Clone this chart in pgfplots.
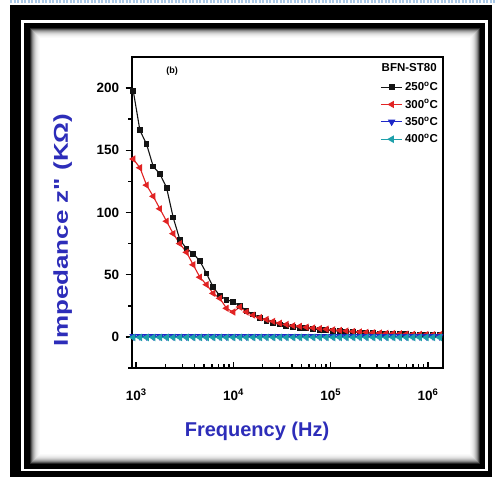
\documentclass[border=0pt]{standalone}
\usepackage{pgfplots}
\pgfplotsset{compat=1.18}
\usepackage{fontspec}
\setmainfont{Liberation Sans}
\newfontfamily\qfont{Liberation Sans}[Ligatures=TeXOff]
\definecolor{cblack}{RGB}{20,20,20}
\definecolor{cred}{RGB}{225,35,35}
\definecolor{cblue}{RGB}{30,40,200}
\definecolor{ccyan}{RGB}{30,160,170}
\definecolor{lblue}{RGB}{45,45,185}

\pgfplotstableread{
f z250 z300 z350 z400
933 198 143 0.4 -0.4
1093 166 136 0.4 -0.4
1279 155 122 0.4 -0.4
1498 137 113 0.4 -0.4
1754 131 103 0.4 -0.4
2054 120 93 0.4 -0.4
2404 96 83 0.4 -0.4
2815 78 75 0.4 -0.4
3296 71 68 0.4 -0.4
3859 67 58 0.4 -0.4
4519 61 48 0.4 -0.4
5291 51 42 0.4 -0.4
6194 40 35 0.4 -0.4
7253 33 31 0.4 -0.4
8492 30 23 0.4 -0.4
9943 28 20 0.4 -0.4
11641 25 24 0.4 -0.4
13630 21 20 0.4 -0.4
15959 18 17.5 0.4 -0.4
18685 15.5 15.5 0.4 -0.4
21878 13 14 0.4 -0.4
25615 11.5 12.5 0.4 -0.4
29992 10 11 0.4 -0.4
35115 9 10 0.4 -0.4
41115 8.2 9 0.4 -0.4
48139 7.5 8.5 0.4 -0.4
56364 7 7.8 0.4 -0.4
65993 6.4 7.2 0.4 -0.4
77268 5.9 6.7 0.4 -0.4
90469 5.5 6.2 0.4 -0.4
105925 5 5.7 0.4 -0.4
124022 4.6 5.2 0.4 -0.4
145211 4.2 4.8 0.4 -0.4
170020 3.9 4.4 0.4 -0.4
199067 3.5 4.0 0.4 -0.4
233077 3.2 3.7 0.4 -0.4
272898 3.0 3.4 0.4 -0.4
319522 2.7 3.1 0.4 -0.4
374111 2.5 2.9 0.4 -0.4
438026 2.3 2.7 0.4 -0.4
512861 2.1 2.5 0.4 -0.4
600484 2.0 2.3 0.4 -0.4
703072 1.8 2.1 0.4 -0.4
823189 1.7 2.0 0.4 -0.4
963829 1.6 1.9 0.4 -0.4
1128496 1.5 1.8 0.4 -0.4
1321300 1.4 1.7 0.4 -0.4
}\data

\begin{document}
\begin{tikzpicture}
\useasboundingbox (0pt,0pt) rectangle (495pt,479pt);
% frame
\fill[white] (0pt,0pt) rectangle (495pt,479pt);
\draw[color={rgb,255:red,170;green,200;blue,230}, line width=3pt, dash pattern=on 2pt off 1.5pt] (10pt,477pt) -- (495pt,477pt);
\fill[black] (10pt,2pt) rectangle (492pt,474pt);
\fill[white] (21pt,8pt) rectangle (488pt,459pt);
\fill[black] (24pt,10pt) rectangle (485pt,456pt);
\fill[white] (30pt,15pt) rectangle (480pt,451pt);
\foreach \i/\c in {0/85,1/65,2/48,3/35,4/25,5/17,6/11,7/7,8/4,9/2}{
  \draw[black!\c, line width=1.1pt] ({30.55pt+\i pt},{15.55pt+\i pt}) rectangle ({479.45pt-\i pt},{450.45pt-\i pt});
}
\begin{axis}[
  at={(131.7pt,111pt)}, anchor=south west,
  scale only axis, width=311pt, height=311pt,
  xmode=log, xmin=900, xmax=1420000,
  ymin=-25, ymax=225,
  axis line style={line width=1.6pt},
  xtick={1000,10000,100000,1000000},
  xticklabels={10\textsuperscript{3},10\textsuperscript{4},10\textsuperscript{5},10\textsuperscript{6}},
  ytick={0,50,100,150,200},
  minor ytick={-25,25,75,125,175},
  xtick pos=bottom, ytick pos=left,
  xtick align=inside, ytick align=outside,
  major tick length=6pt, minor tick length=3.5pt,
  every tick/.style={black, line width=1.4pt},
  tick label style={font=\bfseries\fontsize{13.5}{13.5}\selectfont, black},
  /pgf/number format/assume math mode=true,
  xticklabel style={yshift=-17pt},
  yticklabel style={xshift=-3pt},
  xlabel={Frequency (Hz)},
  ylabel={\scalebox{1.3}[1]{Impedance z{\qfont\bfseries"} (KΩ)}},
  label style={font=\bfseries\fontsize{20}{20}\selectfont, lblue},
  xlabel style={at={(axis description cs:0.403,-0.203)}, anchor=center},
  ylabel style={at={(axis description cs:-0.222,0.444)}, anchor=center},
  legend style={draw=none, fill=none, at={(0.995,0.93)}, anchor=north east,
    font=\bfseries\fontsize{11.5}{12}\selectfont, row sep=3.2pt, inner sep=1pt},
  legend cell align=left,
  legend image code/.code={
    \draw[mark repeat=2,mark phase=2,#1] plot coordinates {(0cm,0cm) (0.38cm,0cm) (0.76cm,0cm)};
  },
  clip=false,
]
\addplot[cblack, line width=1.1pt, mark=square*, mark size=2.4pt, mark options={fill=cblack}] table[x=f,y=z250] {\data};
\addlegendentry{250\textsuperscript{o}C}
\addplot[cred, line width=1.1pt, mark=triangle*, mark size=3.1pt, mark options={fill=cred, rotate=90}] table[x=f,y=z300] {\data};
\addlegendentry{300\textsuperscript{o}C}
\addplot[cblue, line width=1.1pt, mark=triangle*, mark size=3.3pt, mark options={fill=cblue, rotate=180}] table[x=f,y=z350] {\data};
\addlegendentry{350\textsuperscript{o}C}
\addplot[ccyan, line width=1.1pt, mark=triangle*, mark size=3.4pt, mark options={fill=ccyan, rotate=90}] table[x=f,y=z400] {\data};
\addlegendentry{400\textsuperscript{o}C}
\node[font=\bfseries\fontsize{11.5}{12}\selectfont, anchor=east] at (rel axis cs:0.992,0.965) {BFN-ST80};
\node[font=\bfseries\fontsize{9}{9}\selectfont] at (rel axis cs:0.13,0.955) {(b)};
\end{axis}
\end{tikzpicture}
\end{document}
